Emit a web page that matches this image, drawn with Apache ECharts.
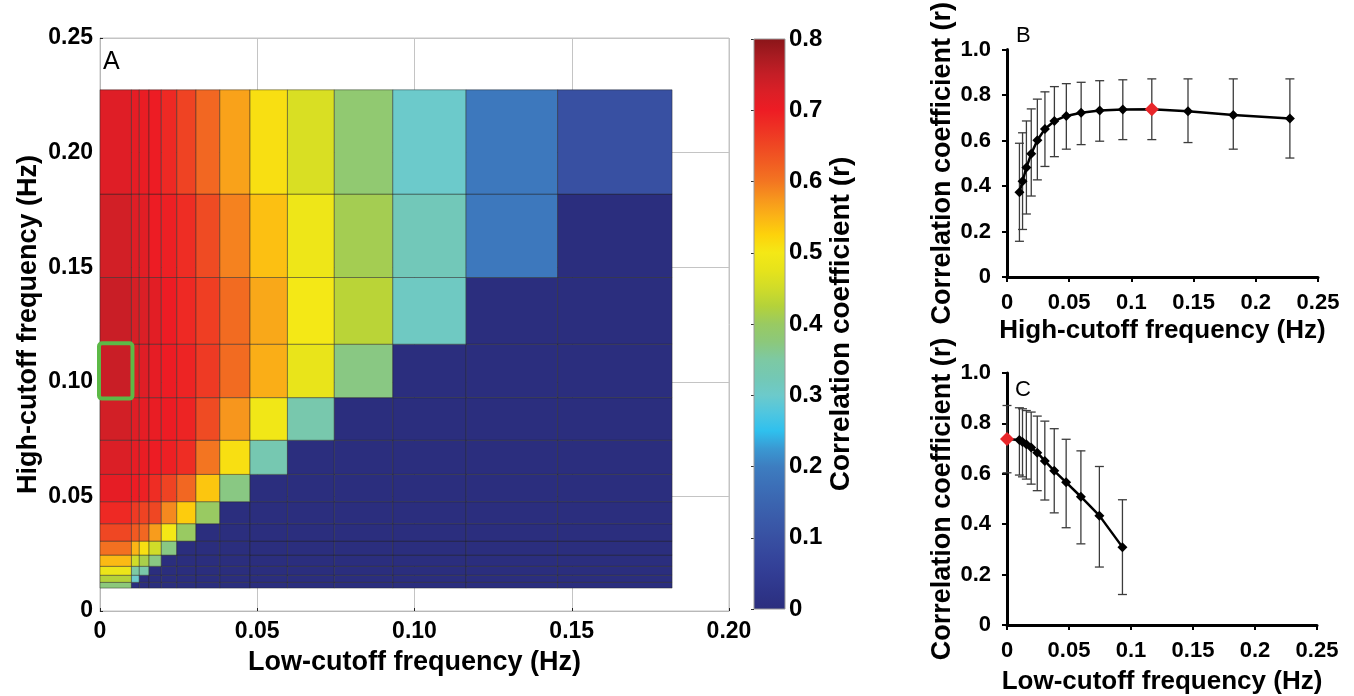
<!DOCTYPE html>
<html><head><meta charset="utf-8">
<script src="https://cdn.jsdelivr.net/npm/echarts@6/dist/echarts.min.js"></script>
<style>html,body{margin:0;padding:0;background:#fff}#main{width:1354px;height:696px}</style>
</head><body><div id="main"></div>
<script>
// ---- data ----
const freqs = [0.01,0.0125,0.0156,0.0195,0.0244,0.0305,0.0381,0.0477,0.0596,0.0745,0.0931,0.1164,0.1455,0.1819,0.2274];
// heatmap cell edges (Hz)
const lowEdges  = [0,0.01,0.0125,0.0156,0.0195,0.0244,0.0305,0.0381,0.0477,0.0596,0.0745,0.0931,0.1164,0.1455,0.1819];
const highEdges = [0.01,0.0125,0.0156,0.0195,0.0244,0.0305,0.0381,0.0477,0.0596,0.0745,0.0931,0.1164,0.1455,0.1819,0.2274];
// correlation per cell, rows from bottom (high-cutoff) to top, columns by low-cutoff
const corrRow0  = [0.375,0,0,0,0,0,0,0,0,0,0,0,0,0];
const corrRow1  = [0.425,0.30,0,0,0,0,0,0,0,0,0,0,0,0];
const corrRow2  = [0.485,0.35,0.34,0,0,0,0,0,0,0,0,0,0,0];
const corrRow3  = [0.545,0.45,0.415,0.37,0,0,0,0,0,0,0,0,0,0];
const corrRow4  = [0.605,0.55,0.51,0.45,0.37,0,0,0,0,0,0,0,0,0];
const corrRow5  = [0.65,0.63,0.615,0.57,0.50,0.40,0,0,0,0,0,0,0,0];
const corrRow6  = [0.685,0.665,0.655,0.65,0.585,0.53,0.40,0,0,0,0,0,0,0];
const corrRow7  = [0.71,0.70,0.695,0.68,0.655,0.615,0.535,0.37,0,0,0,0,0,0];
const corrRow8  = [0.725,0.71,0.705,0.70,0.695,0.68,0.60,0.51,0.33,0,0,0,0,0];
const corrRow9  = [0.735,0.72,0.71,0.705,0.70,0.69,0.645,0.575,0.495,0.335,0,0,0,0];
const corrRow10 = [0.745,0.73,0.72,0.71,0.70,0.69,0.665,0.61,0.555,0.48,0.37,0,0,0];
const corrRow11 = [0.745,0.73,0.725,0.715,0.70,0.685,0.66,0.61,0.56,0.50,0.43,0.31,0,0];
const corrRow12 = [0.735,0.72,0.715,0.70,0.695,0.68,0.645,0.59,0.54,0.49,0.41,0.32,0.19,0];
const corrRow13 = [0.72,0.71,0.705,0.70,0.685,0.655,0.615,0.565,0.51,0.46,0.385,0.30,0.19,0.10];
const corrRows = [corrRow0,corrRow1,corrRow2,corrRow3,corrRow4,corrRow5,corrRow6,corrRow7,corrRow8,corrRow9,corrRow10,corrRow11,corrRow12,corrRow13];
const selectedCell = {col:0,row:10};

// panel B: r vs high-cutoff (low-cutoff = 0)
const highCutoff = [0.01,0.0125,0.0156,0.0195,0.0244,0.0305,0.0381,0.0477,0.0596,0.0745,0.0931,0.1164,0.1455,0.1819,0.2274];
const rHigh      = [0.373,0.421,0.481,0.542,0.601,0.651,0.686,0.708,0.722,0.732,0.736,0.738,0.729,0.712,0.697];
const rHighUpper = [0.588,0.634,0.686,0.739,0.782,0.814,0.837,0.850,0.856,0.863,0.867,0.871,0.871,0.871,0.871];
const rHighLower = [0.157,0.209,0.277,0.356,0.427,0.486,0.529,0.562,0.582,0.597,0.604,0.604,0.591,0.562,0.523];
const highBestIdx = 11;

// panel C: r vs low-cutoff (high-cutoff = 0.1164)
const lowCutoff = [0,0.01,0.0125,0.0156,0.0195,0.0244,0.0305,0.0381,0.0477,0.0596,0.0745,0.0931];
const rLow      = [0.738,0.734,0.726,0.717,0.704,0.684,0.651,0.612,0.566,0.509,0.434,0.309];
const rLowUpper = [0.871,0.862,0.858,0.851,0.845,0.829,0.809,0.779,0.737,0.691,0.629,0.497];
const rLowLower = [0.604,0.595,0.588,0.579,0.559,0.533,0.496,0.445,0.386,0.322,0.230,0.121];
const lowBestIdx = 0;

// colour scale 0 .. 0.8
const colorRange = [0, 0.8];
const palette = ['#2b2e7e','#2e3589','#323d94','#35469c','#3850a2','#3a5aa9','#3b65b0','#3c70b8','#3d7dc0','#3a98d2','#2fc0ee','#4fc6e0','#6ccacb','#74c8b4','#7dc9a3','#8cc87b','#99ca62','#b4d23a','#d0dc29','#e6e31b','#f4e816','#fdd20b','#fbb416','#f7961d','#f37521','#f15d22','#ef4723','#ee3124','#ed1c24','#db1f26','#c41e26','#a81b21','#8a1519'];

// ---- build ----
const FONT = "'Liberation Sans', Arial, sans-serif";
const heatData = [];
corrRows.forEach((row, j) => row.forEach((v, i) => {
  heatData.push([lowEdges[i], lowEdges[i+1], highEdges[j], highEdges[j+1], v]);
}));
const boxData = [[lowEdges[selectedCell.col], lowEdges[selectedCell.col+1], highEdges[selectedCell.row], highEdges[selectedCell.row+1]]];

function rectRender(params, api) {
  const p0 = api.coord([api.value(0), api.value(3)]);
  const p1 = api.coord([api.value(1), api.value(2)]);
  return {type:'rect', shape:{x:p0[0], y:p0[1], width:p1[0]-p0[0], height:p1[1]-p0[1]},
    style:{fill: api.visual('color'), stroke:'rgba(35,35,35,0.45)', lineWidth:1}};
}
function boxRender(params, api) {
  const p0 = api.coord([api.value(0), api.value(3)]);
  const p1 = api.coord([api.value(1), api.value(2)]);
  return {type:'rect', shape:{x:p0[0]-1, y:p0[1]-1, width:p1[0]-p0[0]+2, height:p1[1]-p0[1]+2, r:3},
    style:{fill:'none', stroke:'#5cb946', lineWidth:4}};
}
function colorbarRender(params, api) {
  const p0 = api.coord([0, api.value(1)]);
  const p1 = api.coord([1, api.value(0)]);
  const stops = palette.map((c, k) => ({offset: k/(palette.length-1), color: c}));
  return {type:'rect', shape:{x:p0[0], y:p0[1], width:p1[0]-p0[0], height:p1[1]-p0[1]},
    style:{fill: new echarts.graphic.LinearGradient(0,1,0,0,stops), stroke:'#9a9a9a', lineWidth:1}};
}
function errRender(params, api) {
  const x = api.value(0);
  const pHi = api.coord([x, api.value(2)]);
  const pLo = api.coord([x, api.value(1)]);
  const hw = 4.5;
  const st = {stroke:'#3c3c3c', lineWidth:1.3};
  return {type:'group', children:[
    {type:'line', shape:{x1:pHi[0], y1:pHi[1], x2:pLo[0], y2:pLo[1]}, style:st},
    {type:'line', shape:{x1:pHi[0]-hw, y1:pHi[1], x2:pHi[0]+hw, y2:pHi[1]}, style:st},
    {type:'line', shape:{x1:pLo[0]-hw, y1:pLo[1], x2:pLo[0]+hw, y2:pLo[1]}, style:st}
  ]};
}
const errB = highCutoff.map((x,k) => [x, rHighLower[k], rHighUpper[k]]);
const errC = lowCutoff.map((x,k) => [x, rLowLower[k], rLowUpper[k]]);
function lineData(xs, ys, best) {
  return xs.map((x,k) => k === best
    ? {value:[x, ys[k]], symbolSize:14, itemStyle:{color:'#e8262a', borderWidth:0}}
    : {value:[x, ys[k]]});
}

const fmt2 = v => v === 0 ? '0' : v.toFixed(2);
const fmt1 = v => v === 0 ? '0' : v.toFixed(1);
const lblA = {color:'#000', fontFamily:FONT, fontWeight:'bold', fontSize:23};
const lblBC = {color:'#000', fontFamily:FONT, fontWeight:'bold', fontSize:22};
const nameA = {color:'#000', fontFamily:FONT, fontWeight:'bold', fontSize:27};
const nameBC = {color:'#000', fontFamily:FONT, fontWeight:'bold', fontSize:26};
const nameBCy = {color:'#000', fontFamily:FONT, fontWeight:'bold', fontSize:27};
const grayAxis = {show:true, lineStyle:{color:'#b8b8b8', width:1}};
const blackAxis = {show:true, lineStyle:{color:'#000', width:3}};

const option = {
  backgroundColor:'#fff',
  animation:false,
  grid:[
    {left:100, top:38, width:629, height:573, show:true, borderColor:'#c4c4c4', borderWidth:1, backgroundColor:'#fff'},
    {left:754, top:39, width:31, height:570},
    {left:1007, top:22, width:311, height:255},
    {left:1007, top:373, width:310, height:254}
  ],
  xAxis:[
    {gridIndex:0, type:'value', min:0, max:0.2, interval:0.05, axisLine:grayAxis,
     axisTick:{show:true, inside:true, length:3, lineStyle:{color:'#222'}},
     axisLabel:Object.assign({margin:9, formatter:fmt2}, lblA),
     splitLine:{show:true, lineStyle:{color:'#c4c4c4', width:1}},
     name:'Low-cutoff frequency (Hz)', nameLocation:'middle', nameGap:38, nameTextStyle:nameA},
    {gridIndex:1, type:'value', min:0, max:1, show:false},
    {gridIndex:2, type:'value', min:0, max:0.25, interval:0.05, axisLine:blackAxis,
     axisTick:{show:true, length:5, lineStyle:{color:'#000', width:2}},
     axisLabel:Object.assign({margin:15}, lblBC), splitLine:{show:false},
     name:'High-cutoff frequency (Hz)', nameLocation:'middle', nameGap:41, nameTextStyle:nameBC},
    {gridIndex:3, type:'value', min:0, max:0.25, interval:0.05, axisLine:blackAxis,
     axisTick:{show:true, length:5, lineStyle:{color:'#000', width:2}},
     axisLabel:Object.assign({margin:15}, lblBC), splitLine:{show:false},
     name:'Low-cutoff frequency (Hz)', nameLocation:'middle', nameGap:44, nameTextStyle:nameBC}
  ],
  yAxis:[
    {gridIndex:0, type:'value', min:0, max:0.25, interval:0.05, axisLine:grayAxis,
     axisTick:{show:true, inside:true, length:3, lineStyle:{color:'#222'}},
     axisLabel:Object.assign({margin:7, formatter:fmt2}, lblA),
     splitLine:{show:true, lineStyle:{color:'#c4c4c4', width:1}},
     name:'High-cutoff frequency (Hz)', nameLocation:'middle', nameGap:58, nameTextStyle:nameA},
    {gridIndex:1, type:'value', min:colorRange[0], max:colorRange[1], interval:0.1, position:'right',
     axisLine:{show:false}, axisTick:{show:true, inside:true, length:3, lineStyle:{color:'#333'}},
     axisLabel:Object.assign({margin:4, formatter:fmt1}, lblA, {fontSize:24}),
     splitLine:{show:false},
     name:'Correlation coefficient (r)', nameLocation:'middle', nameGap:42, nameTextStyle:Object.assign({}, nameA, {fontSize:28})},
    {gridIndex:2, type:'value', min:0, max:1, interval:0.2, axisLine:blackAxis,
     axisTick:{show:true, length:5, lineStyle:{color:'#000', width:2}},
     axisLabel:Object.assign({margin:16, formatter:fmt1}, lblBC), splitLine:{show:false},
     name:'Correlation coefficient (r)', nameLocation:'middle', nameGap:32, nameTextStyle:nameBCy},
    {gridIndex:3, type:'value', min:0, max:1, interval:0.2, axisLine:blackAxis,
     axisTick:{show:true, length:5, lineStyle:{color:'#000', width:2}},
     axisLabel:Object.assign({margin:16, formatter:fmt1}, lblBC), splitLine:{show:false},
     name:'Correlation coefficient (r)', nameLocation:'middle', nameGap:32, nameTextStyle:nameBCy}
  ],
  visualMap:{show:false, type:'continuous', min:colorRange[0], max:colorRange[1], dimension:4, seriesIndex:0,
    inRange:{color:palette}},
  graphic:[
    {type:'text', left:103, top:50, style:{text:'A', fontFamily:FONT, fontSize:25, fill:'#000'}},
    {type:'text', left:1016, top:25, style:{text:'B', fontFamily:FONT, fontSize:22, fill:'#000'}},
    {type:'text', left:1015, top:379, style:{text:'C', fontFamily:FONT, fontSize:22, fill:'#000'}}
  ],
  series:[
    {type:'custom', xAxisIndex:0, yAxisIndex:0, data:heatData, renderItem:rectRender, encode:{x:[0,1], y:[2,3]}, z:2},
    {type:'custom', xAxisIndex:0, yAxisIndex:0, data:boxData, renderItem:boxRender, encode:{x:[0,1], y:[2,3]}, z:3},
    {type:'custom', xAxisIndex:1, yAxisIndex:1, data:[colorRange], renderItem:colorbarRender, encode:{y:[0,1]}, z:2},
    {type:'custom', xAxisIndex:2, yAxisIndex:2, data:errB, renderItem:errRender, encode:{x:0, y:[1,2]}, z:2},
    {type:'line', xAxisIndex:2, yAxisIndex:2, data:lineData(highCutoff, rHigh, highBestIdx), symbol:'diamond', symbolSize:10,
     itemStyle:{color:'#000'}, lineStyle:{color:'#000', width:2.5}, clip:false, z:4},
    {type:'custom', xAxisIndex:3, yAxisIndex:3, data:errC, renderItem:errRender, encode:{x:0, y:[1,2]}, z:2},
    {type:'line', xAxisIndex:3, yAxisIndex:3, data:lineData(lowCutoff, rLow, lowBestIdx), symbol:'diamond', symbolSize:10,
     itemStyle:{color:'#000'}, lineStyle:{color:'#000', width:2.5}, clip:false, z:4}
  ]
};
const chart = echarts.init(document.getElementById('main'), null, {renderer:'canvas'});
chart.setOption(option);
</script>
</body></html>
